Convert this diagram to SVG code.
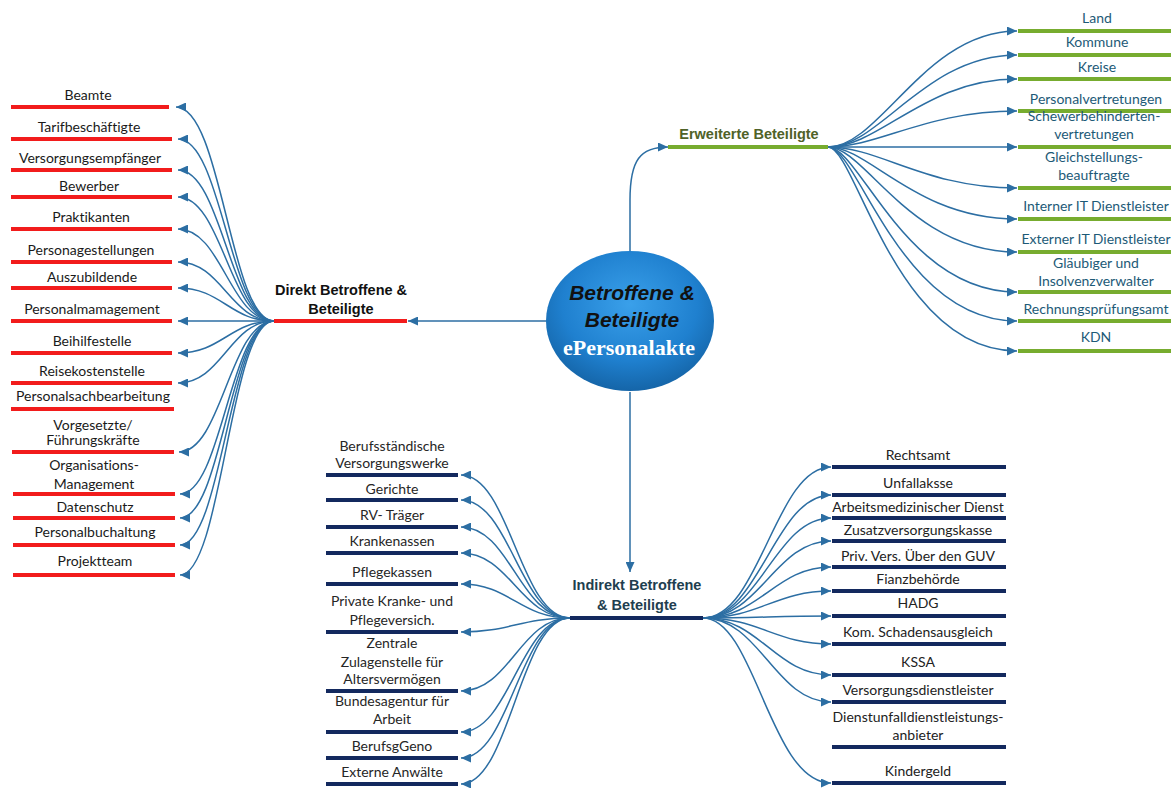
<svg xmlns="http://www.w3.org/2000/svg" width="1171" height="788" viewBox="0 0 1171 788">
  <style>
    .leaf { font-family: "Lato", "Liberation Sans", sans-serif; font-size: 14px; text-anchor: middle; font-variant-ligatures: none; }
    .lk { fill: #1a1a1a; }
    .tr { fill: #1d5a77; }
    .bl { fill: #262626; }
    .br { fill: #222222; }
    .hub { font-family: "Liberation Sans", Arial, sans-serif; font-size: 14.5px; font-weight: bold; text-anchor: middle; }
    .red { stroke: #f21c1c; stroke-width: 4; }
    .grn { stroke: #77ac2f; stroke-width: 4; }
    .nav { stroke: #13295e; stroke-width: 4; }
    .conn path, .conn line { fill: none; stroke: #2c6ea3; stroke-width: 1.5; marker-end: url(#arr); }
  </style>
  <defs>
    <marker id="arr" markerUnits="userSpaceOnUse" markerWidth="11" markerHeight="9" refX="10" refY="4.5" orient="auto">
      <path d="M0,0 L10,4.5 L0,9 z" fill="#2c6ea3"/>
    </marker>
    <radialGradient id="ball" cx="50%" cy="38%" r="62%">
      <stop offset="0" stop-color="#3aa0ea"/>
      <stop offset="0.65" stop-color="#1f80cf"/>
      <stop offset="1" stop-color="#1565a8"/>
    </radialGradient>
  </defs>
  <rect width="1171" height="788" fill="#ffffff"/>

  <!-- connectors -->
  <g id="connectors" class="conn">
    <!-- centre to branches -->
    <line x1="546" y1="321" x2="408" y2="321"/>
    <path d="M630,251 L630,200 C630,160 640,147 668,147"/>
    <line x1="630" y1="392" x2="630" y2="572"/>
    <!-- direct branch -->
    <path d="M274,321 C230,321 222,107 176,107"/>
    <path d="M274,321 C230,321 222,139 178,139"/>
    <path d="M274,321 C230,321 222,170 178,170"/>
    <path d="M274,321 C230,321 222,197 178,197"/>
    <path d="M274,321 C230,321 222,229 178,229"/>
    <path d="M274,321 C230,321 222,262 178,262"/>
    <path d="M274,321 C230,321 222,288 178,288"/>
    <path d="M274,321 L178,321"/>
    <path d="M274,321 C230,321 222,353 178,353"/>
    <path d="M274,321 C230,321 222,383 178,383"/>
    <path d="M274,321 C230,321 222,452 179,452"/>
    <path d="M274,321 C230,321 222,494 180,494"/>
    <path d="M274,321 C230,321 222,518 180,518"/>
    <path d="M274,321 C230,321 222,545 180,545"/>
    <path d="M274,321 C230,321 222,575 180,575"/>
    <!-- extended branch -->
    <path d="M828,147 C880,147 925,31 1017,31"/>
    <path d="M828,147 C880,147 925,55 1017,55"/>
    <path d="M828,147 C880,147 925,79 1017,79"/>
    <path d="M828,147 C880,147 925,111 1017,111"/>
    <path d="M828,147 L1017,147"/>
    <path d="M828,147 C880,147 925,188 1017,188"/>
    <path d="M828,147 C870,147 915,219 1017,219"/>
    <path d="M828,147 C865,147 910,252 1017,252"/>
    <path d="M828,147 C860,147 905,292 1017,292"/>
    <path d="M828,147 C858,147 900,321 1017,321"/>
    <path d="M828,147 C856,147 895,351 1017,351"/>
    <!-- indirect branch, left -->
    <path d="M570,618 C520,618 510,475 461,475"/>
    <path d="M570,618 C520,618 510,500 461,500"/>
    <path d="M570,618 C520,618 510,527 461,527"/>
    <path d="M570,618 C520,618 510,553 461,553"/>
    <path d="M570,618 C520,618 510,584 461,584"/>
    <path d="M570,618 C520,618 510,632 461,632"/>
    <path d="M570,618 C520,618 510,691 461,691"/>
    <path d="M570,618 C520,618 510,732 461,732"/>
    <path d="M570,618 C520,618 510,758 461,758"/>
    <path d="M570,618 C520,618 510,784 461,784"/>
    <!-- indirect branch, right -->
    <path d="M703,618 C760,618 775,467 831,467"/>
    <path d="M703,618 C760,618 775,495 831,495"/>
    <path d="M703,618 C760,618 775,518 831,518"/>
    <path d="M703,618 C760,618 775,541 831,541"/>
    <path d="M703,618 C760,618 775,567 831,567"/>
    <path d="M703,618 C760,618 775,591 831,591"/>
    <path d="M703,618 C760,618 775,616 831,616"/>
    <path d="M703,618 C760,618 775,644 831,644"/>
    <path d="M703,618 C760,618 775,675 831,675"/>
    <path d="M703,618 C760,618 775,702 831,702"/>
    <path d="M703,618 C755,618 770,783 831,783"/>
  </g>

  <!-- centre -->
  <g id="center">
    <ellipse cx="630" cy="321" rx="84" ry="70" fill="url(#ball)"/>
    <text x="632" y="300" font-family="Liberation Sans, Arial, sans-serif" font-size="21" font-weight="bold" font-style="italic" text-anchor="middle" fill="#111">Betroffene &amp;</text>
    <text x="632" y="327" font-family="Liberation Sans, Arial, sans-serif" font-size="21" font-weight="bold" font-style="italic" text-anchor="middle" fill="#111">Beteiligte</text>
    <text x="629" y="355" font-family="Liberation Serif, Times New Roman, serif" font-size="22" font-weight="bold" text-anchor="middle" fill="#ffffff">ePersonalakte</text>
  </g>

  <!-- hubs -->
  <g id="hub-direkt">
    <line class="red" x1="274" y1="321" x2="407" y2="321"/>
    <text class="hub" x="341" y="295" fill="#111">Direkt Betroffene &amp;</text>
    <text class="hub" x="341" y="314" fill="#111">Beteiligte</text>
  </g>
  <g id="hub-erweitert">
    <line class="grn" x1="668" y1="147" x2="828" y2="147"/>
    <text class="hub" x="749" y="139" fill="#4f6228">Erweiterte Beteiligte</text>
  </g>
  <g id="hub-indirekt">
    <line class="nav" x1="570" y1="618" x2="703" y2="618"/>
    <text class="hub" x="637" y="590" fill="#213e4f">Indirekt Betroffene</text>
    <text class="hub" x="637" y="610" fill="#213e4f">&amp; Beteiligte</text>
  </g>

  <!-- direct leaves -->
  <g id="d-beamte"><line class="red" x1="11" y1="107" x2="169" y2="107"/><text class="leaf lk" x="88" y="100">Beamte</text></g>
  <g id="d-tarif"><line class="red" x1="11" y1="139" x2="172" y2="139"/><text class="leaf lk" x="89" y="132">Tarifbeschäftigte</text></g>
  <g id="d-versorgung"><line class="red" x1="11" y1="170" x2="172" y2="170"/><text class="leaf lk" x="90" y="163">Versorgungsempfänger</text></g>
  <g id="d-bewerber"><line class="red" x1="11" y1="197" x2="172" y2="197"/><text class="leaf lk" x="89" y="191">Bewerber</text></g>
  <g id="d-praktikanten"><line class="red" x1="11" y1="229" x2="172" y2="229"/><text class="leaf lk" x="91" y="222">Praktikanten</text></g>
  <g id="d-personagestellungen"><line class="red" x1="11" y1="262" x2="172" y2="262"/><text class="leaf lk" x="91" y="255">Personagestellungen</text></g>
  <g id="d-azubi"><line class="red" x1="11" y1="288" x2="172" y2="288"/><text class="leaf lk" x="92" y="282">Auszubildende</text></g>
  <g id="d-personalmgmt"><line class="red" x1="11" y1="321" x2="172" y2="321"/><text class="leaf lk" x="92" y="314">Personalmamagement</text></g>
  <g id="d-beihilfe"><line class="red" x1="11" y1="353" x2="172" y2="353"/><text class="leaf lk" x="92" y="346">Beihilfestelle</text></g>
  <g id="d-reisekosten"><line class="red" x1="11" y1="383" x2="172" y2="383"/><text class="leaf lk" x="92" y="376">Reisekostenstelle</text></g>
  <g id="d-sachbearbeitung"><line class="red" x1="11" y1="409" x2="174" y2="409"/><text class="leaf lk" x="93" y="401">Personalsachbearbeitung</text></g>
  <g id="d-vorgesetzte"><line class="red" x1="12" y1="452" x2="174" y2="452"/><text class="leaf lk" x="93" y="430">Vorgesetzte/</text><text class="leaf lk" x="93" y="445">Führungskräfte</text></g>
  <g id="d-organisation"><line class="red" x1="13" y1="494" x2="175" y2="494"/><text class="leaf lk" x="94" y="470">Organisations-</text><text class="leaf lk" x="94" y="489">Management</text></g>
  <g id="d-datenschutz"><line class="red" x1="13" y1="518" x2="175" y2="518"/><text class="leaf lk" x="95" y="512">Datenschutz</text></g>
  <g id="d-buchhaltung"><line class="red" x1="13" y1="545" x2="175" y2="545"/><text class="leaf lk" x="95" y="537">Personalbuchaltung</text></g>
  <g id="d-projektteam"><line class="red" x1="13" y1="575" x2="175" y2="575"/><text class="leaf lk" x="95" y="566">Projektteam</text></g>

  <!-- extended leaves -->
  <g id="e-land"><line class="grn" x1="1018" y1="31" x2="1171" y2="31"/><text class="leaf tr" x="1097" y="23">Land</text></g>
  <g id="e-kommune"><line class="grn" x1="1018" y1="55" x2="1171" y2="55"/><text class="leaf tr" x="1097" y="47">Kommune</text></g>
  <g id="e-kreise"><line class="grn" x1="1018" y1="79" x2="1171" y2="79"/><text class="leaf tr" x="1097" y="72">Kreise</text></g>
  <g id="e-personalvertretungen"><line class="grn" x1="1018" y1="111" x2="1171" y2="111"/><text class="leaf tr" x="1096" y="104">Personalvertretungen</text></g>
  <g id="e-schwerbehinderte"><line class="grn" x1="1018" y1="147" x2="1171" y2="147"/><text class="leaf tr" x="1094" y="121">Schewerbehinderten-</text><text class="leaf tr" x="1094" y="139">vertretungen</text></g>
  <g id="e-gleichstellung"><line class="grn" x1="1018" y1="188" x2="1171" y2="188"/><text class="leaf tr" x="1094" y="162">Gleichstellungs-</text><text class="leaf tr" x="1094" y="180">beauftragte</text></g>
  <g id="e-interner-it"><line class="grn" x1="1018" y1="219" x2="1171" y2="219"/><text class="leaf tr" x="1096" y="211">Interner IT Dienstleister</text></g>
  <g id="e-externer-it"><line class="grn" x1="1018" y1="252" x2="1171" y2="252"/><text class="leaf tr" x="1096" y="244">Externer IT Dienstleister</text></g>
  <g id="e-glaeubiger"><line class="grn" x1="1018" y1="292" x2="1171" y2="292"/><text class="leaf tr" x="1096" y="268">Gläubiger und</text><text class="leaf tr" x="1096" y="286">Insolvenzverwalter</text></g>
  <g id="e-rechnungspruefung"><line class="grn" x1="1018" y1="321" x2="1171" y2="321"/><text class="leaf tr" x="1096" y="314">Rechnungsprüfungsamt</text></g>
  <g id="e-kdn"><line class="grn" x1="1018" y1="351" x2="1171" y2="351"/><text class="leaf tr" x="1096" y="342">KDN</text></g>

  <!-- indirect leaves, left -->
  <g id="il-berufsstaendische"><line class="nav" x1="326" y1="475" x2="458" y2="475"/><text class="leaf bl" x="392" y="451">Berufsständische</text><text class="leaf bl" x="392" y="468">Versorgungswerke</text></g>
  <g id="il-gerichte"><line class="nav" x1="326" y1="500" x2="458" y2="500"/><text class="leaf bl" x="392" y="494">Gerichte</text></g>
  <g id="il-rv"><line class="nav" x1="326" y1="527" x2="458" y2="527"/><text class="leaf bl" x="392" y="520">RV- Träger</text></g>
  <g id="il-krankenkassen"><line class="nav" x1="326" y1="553" x2="458" y2="553"/><text class="leaf bl" x="392" y="546">Krankenassen</text></g>
  <g id="il-pflegekassen"><line class="nav" x1="326" y1="584" x2="458" y2="584"/><text class="leaf bl" x="392" y="577">Pflegekassen</text></g>
  <g id="il-private"><line class="nav" x1="326" y1="632" x2="458" y2="632"/><text class="leaf bl" x="392" y="606">Private Kranke- und</text><text class="leaf bl" x="392" y="625">Pflegeversich.</text></g>
  <g id="il-zulagenstelle"><line class="nav" x1="326" y1="691" x2="458" y2="691"/><text class="leaf bl" x="392" y="648">Zentrale</text><text class="leaf bl" x="392" y="667">Zulagenstelle für</text><text class="leaf bl" x="392" y="684">Altersvermögen</text></g>
  <g id="il-bundesagentur"><line class="nav" x1="326" y1="732" x2="458" y2="732"/><text class="leaf bl" x="392" y="706">Bundesagentur für</text><text class="leaf bl" x="392" y="724">Arbeit</text></g>
  <g id="il-berufsgeno"><line class="nav" x1="326" y1="758" x2="458" y2="758"/><text class="leaf bl" x="392" y="751">BerufsgGeno</text></g>
  <g id="il-anwaelte"><line class="nav" x1="326" y1="784" x2="458" y2="784"/><text class="leaf bl" x="392" y="777">Externe Anwälte</text></g>

  <!-- indirect leaves, right -->
  <g id="ir-rechtsamt"><line class="nav" x1="832" y1="467" x2="1006" y2="467"/><text class="leaf br" x="918" y="460">Rechtsamt</text></g>
  <g id="ir-unfallkasse"><line class="nav" x1="832" y1="495" x2="1006" y2="495"/><text class="leaf br" x="918" y="488">Unfallaksse</text></g>
  <g id="ir-arbeitsmedizin"><line class="nav" x1="832" y1="518" x2="1006" y2="518"/><text class="leaf br" x="918" y="512">Arbeitsmedizinischer Dienst</text></g>
  <g id="ir-zusatzversorgung"><line class="nav" x1="832" y1="541" x2="1006" y2="541"/><text class="leaf br" x="918" y="535">Zusatzversorgungskasse</text></g>
  <g id="ir-privvers"><line class="nav" x1="832" y1="567" x2="1006" y2="567"/><text class="leaf br" x="918" y="561">Priv. Vers. Über den GUV</text></g>
  <g id="ir-finanz"><line class="nav" x1="832" y1="591" x2="1006" y2="591"/><text class="leaf br" x="918" y="584">Fianzbehörde</text></g>
  <g id="ir-hadg"><line class="nav" x1="832" y1="616" x2="1006" y2="616"/><text class="leaf br" x="918" y="608">HADG</text></g>
  <g id="ir-schadensausgleich"><line class="nav" x1="832" y1="644" x2="1006" y2="644"/><text class="leaf br" x="918" y="637">Kom. Schadensausgleich</text></g>
  <g id="ir-kssa"><line class="nav" x1="832" y1="675" x2="1006" y2="675"/><text class="leaf br" x="918" y="667">KSSA</text></g>
  <g id="ir-versorgungsdl"><line class="nav" x1="832" y1="702" x2="1006" y2="702"/><text class="leaf br" x="918" y="695">Versorgungsdienstleister</text></g>
  <g id="ir-dienstunfall"><line class="nav" x1="832" y1="747" x2="1006" y2="747"/><text class="leaf br" x="918" y="722">Dienstunfalldienstleistungs-</text><text class="leaf br" x="918" y="740">anbieter</text></g>
  <g id="ir-kindergeld"><line class="nav" x1="832" y1="783" x2="1006" y2="783"/><text class="leaf br" x="918" y="776">Kindergeld</text></g>
</svg>
